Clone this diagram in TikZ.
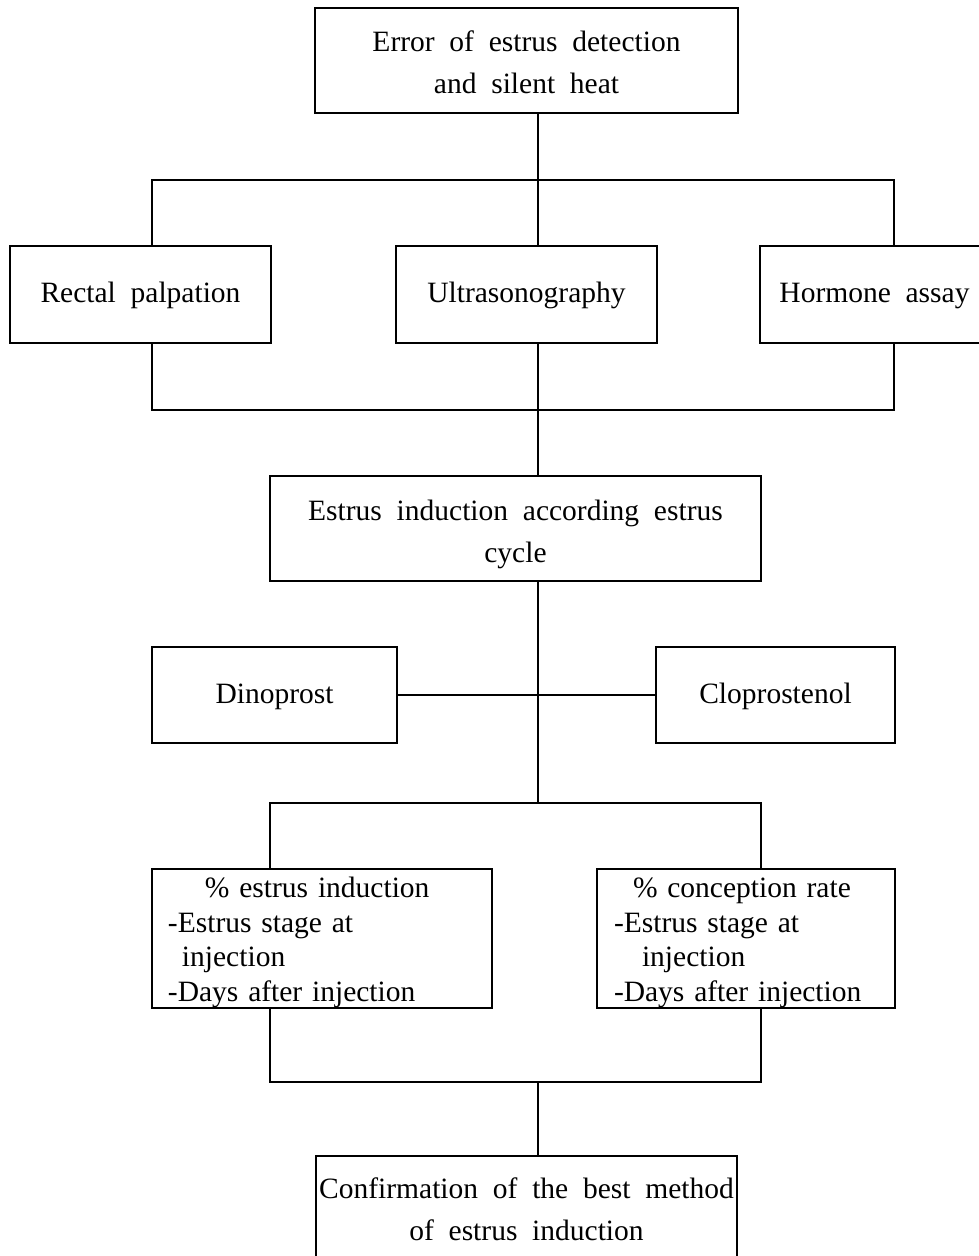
\documentclass[tikz,border=0pt]{standalone}
\usepackage{fontspec}
\setmainfont{Liberation Serif}[WordSpace={2,0,0},Ligatures=NoCommon]

% invisible prop that sets the height of a first line
\newcommand\firstline[1]{\rule{0pt}{#1}}

\begin{document}
\begin{tikzpicture}[x=1bp, y=-1bp,
  mbox/.style={draw, line width=1.9bp, inner sep=0pt, align=center,
    font=\fontsize{29.5bp}{41.5bp}\selectfont},
  box/.style={mbox, execute at begin node=\strut, execute at end node=\strut},
  listbox/.style={draw, line width=1.9bp, inner ysep=0pt, align=left,
    minimum height=139bp, font=\fontsize{29.5bp}{34.5bp}\selectfont},
  link/.style={line width=1.9bp}]

\useasboundingbox (0,0) rectangle (979,1256);

% boxes
\node[mbox, minimum width=423bp, minimum height=105bp] (top) at (526.5,60.5)
  {\firstline{24bp}Error of estrus detection\\and silent heat};

\node[box, minimum width=261bp, minimum height=97bp] (rectal) at (140.5,294.5)
  {Rectal palpation};
\node[box, minimum width=261bp, minimum height=97bp] (ultra) at (526.5,294.5)
  {Ultrasonography};
\node[box, minimum width=229bp, minimum height=97bp] (hormone) at (874.5,294.5)
  {Hormone assay};

\node[mbox, minimum width=491bp, minimum height=105bp] (induct) at (515.5,528.5)
  {\firstline{32bp}Estrus induction according estrus\\cycle};

\node[box, minimum width=245bp, minimum height=96bp] (dino) at (274.5,695)
  {Dinoprost};
\node[box, minimum width=239bp, minimum height=96bp] (clop) at (775.5,695)
  {Cloprostenol};

\node[listbox, inner xsep=16bp, text width=308bp] (pest) at (322,938.5)
  {\firstline{28bp}\hspace*{37bp}\% estrus induction\\
   -Estrus stage at\\
   \hspace*{14bp}injection\\
   -Days after injection};
\node[listbox, inner xsep=17bp, text width=264bp] (pcon) at (746,938.5)
  {\firstline{28bp}\hspace*{19bp}\% conception rate\\
   -Estrus stage at\\
   \hspace*{28bp}injection\\
   -Days after injection};

\node[mbox, minimum width=421bp, minimum height=106bp] (confirm) at (526.5,1209)
  {Confirmation of the best method\\of estrus induction};

% junction points of the connectors
\coordinate (spA) at (538,180);
\coordinate (b1l) at (152,180);
\coordinate (b1r) at (894,180);
\coordinate (b2l) at (152,410);
\coordinate (b2r) at (894,410);
\coordinate (spB) at (538,410);
\coordinate (spC) at (538,803);
\coordinate (b3l) at (270,803);
\coordinate (b3r) at (761,803);
\coordinate (b4l) at (270,1082);
\coordinate (b4r) at (761,1082);
\coordinate (spD) at (538,1082);

% connectors
\draw[link] (top.south -| spA) -- (ultra.north -| spA);
\draw[link] (rectal.north -| b1l) -- (b1l) -- (b1r) -- (hormone.north -| b1r);
\draw[link] (rectal.south -| b2l) -- (b2l) -- (b2r) -- (hormone.south -| b2r);
\draw[link] (ultra.south -| spB) -- (induct.north -| spB);
\draw[link] (induct.south -| spC) -- (spC);
\draw[link] (dino.east) -- (clop.west);
\draw[link] (pest.north -| b3l) -- (b3l) -- (b3r) -- (pcon.north -| b3r);
\draw[link] (pest.south -| b4l) -- (b4l) -- (b4r) -- (pcon.south -| b4r);
\draw[link] (spD) -- (confirm.north -| spD);

\end{tikzpicture}
\end{document}
